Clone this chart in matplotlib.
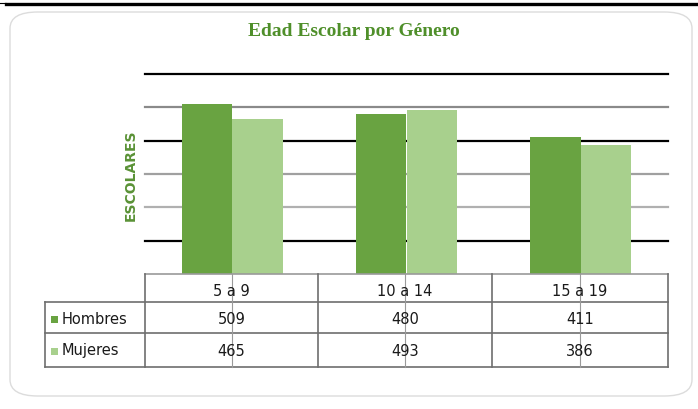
import matplotlib.pyplot as plt
from matplotlib.patches import FancyBboxPatch, Rectangle
from matplotlib.lines import Line2D

# datos del grafico
categorias = ['5 a 9', '10 a 14', '15 a 19']
hombres = [509, 480, 411]
mujeres = [465, 493, 386]
series = ['Hombres', 'Mujeres']
titulo = 'Edad Escolar por Género'

verde_h = '#69a341'
verde_m = '#a8d08d'
verde_txt = '#5a9236'

W, H = 698, 409

def fx(px):
    return px / W

def fy(py):
    return 1 - py / H

fig = plt.figure(figsize=(W / 100, H / 100), dpi=100)
fig.patch.set_facecolor('white')

# marco redondeado y linea negra superior
marco = FancyBboxPatch((fx(10), fy(396)), fx(682), 384 / H,
                       boxstyle='round,pad=0,rounding_size=0.04',
                       transform=fig.transFigure, facecolor='none',
                       edgecolor='#dcdcdc', linewidth=1)
fig.patches.append(marco)
fig.lines.append(Line2D([fx(6), 1], [fy(4), fy(4)], transform=fig.transFigure,
                        color='black', linewidth=2.4))
fig.lines.append(Line2D([0, fx(6)], [fy(3), fy(3)], transform=fig.transFigure,
                        color='black', linewidth=0.8))

# eje de las barras
ax = fig.add_axes([fx(145), fy(274), fx(668) - fx(145), (274 - 74) / H])
ax.set_xlim(-0.5, len(categorias) - 0.5)
ax.set_ylim(0, 600)

colores_grid = ['black', '#8a8a8a', 'black', '#a0a0a0', '#b0b0b0', 'black']
for v, c in zip([600, 500, 400, 300, 200, 100], colores_grid):
    ax.axhline(v, color=c, linewidth=1.6, zorder=0, clip_on=False)

x = range(len(categorias))
ancho = 0.29
ax.bar([i - ancho / 2 for i in x], hombres, ancho, color=verde_h, zorder=2)
ax.bar([i + ancho / 2 for i in x], mujeres, ancho, color=verde_m, zorder=2)

for s in ax.spines.values():
    s.set_visible(False)
ax.set_xticks([])
ax.set_yticks([])

fig.text(fx(131), fy(175), 'ESCOLARES', rotation=90, color=verde_txt,
         fontsize=10, fontweight='bold', ha='center', va='center',
         fontfamily='DejaVu Sans Condensed')

fig.text(fx(354), fy(32), titulo, color='#4f8f2a', fontsize=14,
         fontweight='bold', fontfamily='Liberation Serif',
         ha='center', va='center')

# tabla de datos
gris = '#6e6e6e'
col_x = [145, 318, 492, 668]
y_top, y_h, y_m, y_bot = 274, 302, 333, 367
izq = 45

def hline(x0, x1, y, c=gris, lw=1.2):
    fig.lines.append(Line2D([fx(x0), fx(x1)], [fy(y), fy(y)],
                            transform=fig.transFigure, color=c, linewidth=lw))

def vline(x0, y0, y1, c=gris, lw=1.2):
    fig.lines.append(Line2D([fx(x0), fx(x0)], [fy(y0), fy(y1)],
                            transform=fig.transFigure, color=c, linewidth=lw))

hline(col_x[0], col_x[-1], y_top, c='#9a9a9a')
hline(izq, col_x[-1], y_h)
hline(izq, col_x[-1], y_m)
hline(izq, col_x[-1], y_bot)
vline(izq, y_h, y_bot)
for cx in col_x:
    vline(cx, y_top, y_bot)

fs = 10.5
tc = '#1a1a1a'
for i, cat in enumerate(categorias):
    cx = (col_x[i] + col_x[i + 1]) / 2
    vline(cx, y_top, y_bot, c='#9a9a9a', lw=0.8)
    fig.text(fx(cx), fy(292), cat, fontsize=fs, ha='center', va='center', color=tc)
    fig.text(fx(cx), fy(319), str(hombres[i]), fontsize=fs, ha='center', va='center', color=tc)
    fig.text(fx(cx), fy(351), str(mujeres[i]), fontsize=fs, ha='center', va='center', color=tc)

for nombre, col, yc in zip(series, [verde_h, verde_m], [319, 351]):
    fig.patches.append(Rectangle((fx(51), fy(yc + 3.5)), 7 / W, 7 / H,
                                 transform=fig.transFigure, facecolor=col,
                                 edgecolor='none'))
    fig.text(fx(62), fy(yc), nombre, fontsize=fs, ha='left', va='center', color=tc)

fig.savefig('out.png', dpi=100)
